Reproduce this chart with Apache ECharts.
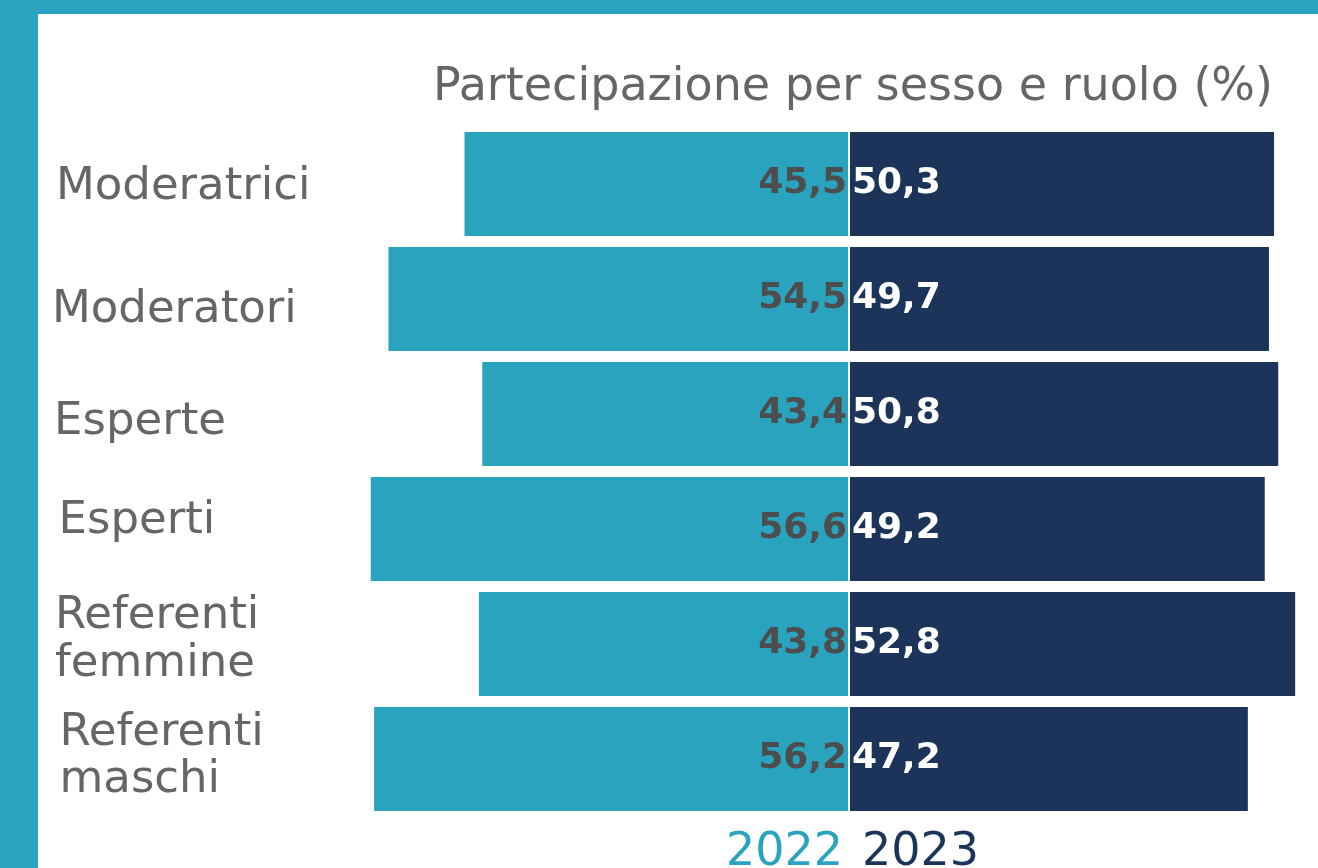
<!DOCTYPE html>
<html>
<head>
<meta charset="utf-8">
<script src="https://cdn.jsdelivr.net/npm/echarts@6/dist/echarts.min.js"></script>
<style>
  html, body { margin: 0; padding: 0; background: #fff; }
  #wrap { position: relative; width: 1318px; height: 868px; overflow: hidden; }
  #chart { position: absolute; left: 0; top: 0; width: 1318px; height: 868px; }
  .strip { position: absolute; background: #29a3be; }
</style>
</head>
<body>
<div id="wrap">
  <div id="chart"></div>
  <div class="strip" style="left:0;top:0;width:38px;height:868px"></div>
  <div class="strip" style="left:0;top:0;width:1318px;height:14px"></div>
</div>
<script>
// dati
var categories = ['Moderatrici', 'Moderatori', 'Esperte', 'Esperti', 'Referenti\nfemmine', 'Referenti\nmaschi']
var values2022 = [45.5, 54.5, 43.4, 56.6, 43.8, 56.2]
var values2023 = [50.3, 49.7, 50.8, 49.2, 52.8, 47.2]
var years = ['2022', '2023']

// piccoli spostamenti delle etichette, come nell'originale
var nudgeX = [6, 2, 4, 8.5, 5, 9.5]
var nudgeY = [3, 11, 8, -8, -3.5, -2]

var teal = '#29a3be'
var navy = '#1c3459'
var font = '"DejaVu Sans", sans-serif'
var lineH = 47.5

function fmt(v) {
  return Math.abs(v).toFixed(1).replace('.', ',')
}

// con verticalAlign 'top' il padding superiore sposta davvero il testo
var catData = categories.map(function (c, i) {
  var lines = c.split('\n').length
  return {
    value: c,
    textStyle: {
      align: 'left',
      verticalAlign: 'top',
      padding: [nudgeY[i] - lines * lineH / 2, 0, 0, nudgeX[i]]
    }
  }
})

var mychart = echarts.init(document.getElementById('chart'))
mychart.setOption({
  backgroundColor: '#fff',
  animation: false,
  textStyle: { fontFamily: font },
  title: [
    {
      text: 'Partecipazione per sesso e ruolo (%)',
      right: 45,
      top: 65,
      padding: 0,
      textStyle: { fontSize: 46, fontWeight: 'normal', color: '#666', fontFamily: font }
    },
    {
      text: years[0],
      right: 1318 - 843,
      top: 830,
      padding: 0,
      textStyle: { fontSize: 46, fontWeight: 'normal', color: teal, fontFamily: font }
    },
    {
      text: years[1],
      left: 862,
      top: 830,
      padding: 0,
      textStyle: { fontSize: 46, fontWeight: 'normal', color: navy, fontFamily: font }
    }
  ],
  grid: { left: 342, width: 971.75, top: 126.5, height: 690, outerBoundsMode: 'none', containLabel: false },
  xAxis: {
    type: 'value',
    min: -60,
    max: 55,
    show: false
  },
  yAxis: {
    type: 'category',
    inverse: true,
    data: catData,
    axisLine: { show: false },
    axisTick: { show: false },
    axisLabel: {
      interval: 0,
      align: 'left',
      margin: 292,
      fontSize: 45,
      lineHeight: lineH,
      color: '#666',
      fontFamily: font
    }
  },
  series: [
    {
      name: years[0],
      type: 'bar',
      stack: 'tot',
      barWidth: 104,
      data: values2022.map(function (v) { return -v }),
      itemStyle: { color: teal },
      label: {
        show: true,
        position: 'insideRight',
        distance: 2,
        formatter: function (p) { return fmt(p.value) },
        fontSize: 36,
        fontWeight: 'bold',
        color: '#4d4d4d',
        fontFamily: font
      },
      markLine: {
        silent: true,
        symbol: 'none',
        label: { show: false },
        lineStyle: { color: '#fff', width: 2, type: 'solid' },
        data: [{ xAxis: 0 }]
      }
    },
    {
      name: years[1],
      type: 'bar',
      stack: 'tot',
      barWidth: 104,
      data: values2023,
      itemStyle: { color: navy },
      label: {
        show: true,
        position: 'insideLeft',
        distance: 3,
        formatter: function (p) { return fmt(p.value) },
        fontSize: 36,
        fontWeight: 'bold',
        color: '#fff',
        fontFamily: font
      }
    }
  ]
})
</script>
</body>
</html>
